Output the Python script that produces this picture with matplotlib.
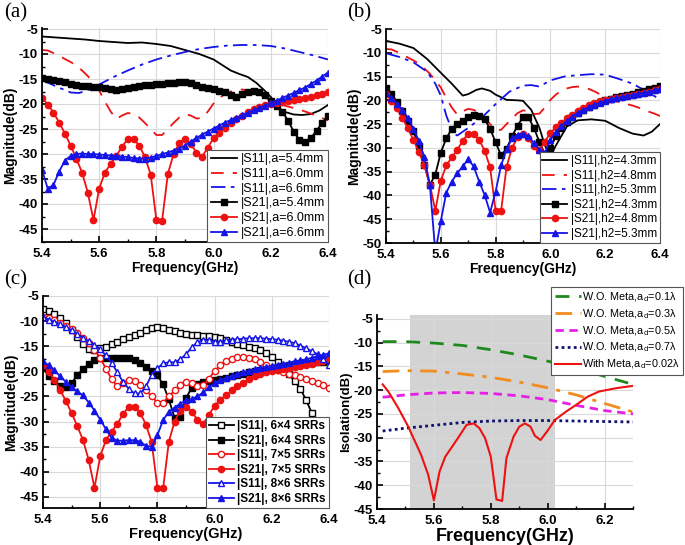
import numpy as np
import matplotlib
matplotlib.use("Agg")
import matplotlib.pyplot as plt
from matplotlib.ticker import MultipleLocator

plt.rcParams['font.family'] = ['Liberation Sans', 'DejaVu Sans']
plt.rcParams['mathtext.fontset'] = 'custom'
plt.rcParams['mathtext.rm'] = 'Liberation Sans'

# ---- data ----
freq = np.linspace(5.4, 6.4, 51)   # marker grid, 0.02 GHz

# shared: |S21| a=6.0 / h2=4.8 / 7x5 SRRs
s21_red = [-18.7, -20.1, -21.7, -23.7, -25.9, -28.3, -30.9, -33.7, -37.7, -43.2,
           -36.9, -33.7, -32.0, -30.4, -28.5, -27.0, -27.0, -28.3, -30.6, -34.1,
           -43.2, -43.3, -34.0, -30.0, -27.8, -27.0, -28.0, -29.7, -30.5, -28.7,
           -26.8, -25.7, -24.8, -23.8, -23.0, -22.3, -21.6, -21.0, -20.6, -20.2,
           -19.9, -19.7, -19.5, -19.3, -19.1, -18.9, -18.7, -18.5, -18.2, -17.9, -17.6]
# shared: |S11| a=6.0 / h2=4.8 / 7x5 SRRs
s11_red = [-9.2, -9.3, -9.8, -10.4, -11.0, -11.6, -12.3, -13.3, -14.4, -15.8,
           -17.3, -19.5, -21.5, -23.0, -22.3, -21.8, -22.0, -22.7, -23.8, -25.0,
           -26.2, -26.2, -25.0, -23.8, -22.7, -22.1, -22.3, -22.9, -22.8, -21.5,
           -19.9, -18.8, -18.0, -17.5, -17.2, -17.1, -17.3, -17.6, -18.1, -18.7,
           -19.3, -19.8, -20.2, -20.5, -20.8, -21.1, -21.5, -21.9, -22.4, -22.8, -23.3]

# (a)
a_s11_k_f = [5.40, 5.45, 5.50, 5.55, 5.60, 5.65, 5.70, 5.75, 5.80, 5.85, 5.90, 5.95, 6.00, 6.03,
             6.06, 6.09, 6.12, 6.15, 6.18, 6.20, 6.23, 6.25, 6.28, 6.31, 6.34, 6.37, 6.40]
a_s11_k = [-6.5, -6.7, -6.9, -7.1, -7.4, -7.6, -7.8, -7.7, -8.0, -8.4, -9.2, -10.0, -11.1, -12.2,
           -13.3, -14.0, -14.6, -15.8, -17.4, -18.6, -20.9, -21.6, -22.1, -22.2, -22.0, -21.3, -20.2]
a_s11_b_f = [5.40, 5.45, 5.50, 5.53, 5.57, 5.60, 5.65, 5.70, 5.75, 5.80, 5.85, 5.90, 5.95, 6.00,
             6.05, 6.10, 6.15, 6.20, 6.25, 6.30, 6.35, 6.40]
a_s11_b = [-15.2, -16.5, -17.7, -17.8, -17.0, -16.1, -14.6, -13.3, -12.1, -11.1, -10.3, -9.6, -9.0,
           -8.6, -8.3, -8.2, -8.2, -8.4, -8.9, -9.6, -10.3, -11.1]
a_s21_k = [-14.7, -14.9, -15.1, -15.4, -15.6, -15.9, -16.1, -16.3, -16.4, -16.5,
           -16.6, -16.8, -17.0, -17.1, -17.0, -16.8, -16.6, -16.4, -16.2, -16.1,
           -16.0, -15.9, -15.8, -15.7, -15.6, -15.6, -15.7, -16.1, -16.5, -16.8,
           -17.0, -17.3, -17.6, -18.2, -18.5, -18.0, -17.6, -17.3, -17.5, -18.2,
           -19.3, -20.3, -21.5, -23.3, -25.5, -27.2, -27.6, -26.8, -25.3, -23.8, -22.3]
a_s21_b = [-33.2, -36.9, -36.2, -33.5, -31.3, -30.4, -30.0, -29.9, -30.0, -30.0,
           -30.1, -30.2, -30.3, -30.4, -30.5, -30.6, -30.8, -30.9, -30.9, -30.7,
           -30.4, -30.0, -29.7, -29.3, -28.9, -28.3, -27.5, -26.8, -26.1, -25.5,
           -24.9, -24.3, -23.7, -23.2, -22.7, -22.2, -21.7, -21.2, -20.8, -20.3,
           -19.8, -19.3, -18.8, -18.3, -17.8, -17.2, -16.7, -16.0, -15.3, -14.5, -13.7]

# (b)
b_s11_k_f = [5.40, 5.45, 5.50, 5.55, 5.60, 5.64, 5.68, 5.70, 5.73, 5.75, 5.78, 5.80, 5.84, 5.88,
             5.90, 5.93, 5.96, 5.98, 6.00, 6.02, 6.06, 6.10, 6.15, 6.20, 6.25, 6.30, 6.34, 6.37, 6.40]
b_s11_k = [-7.5, -8.1, -9.0, -11.3, -14.2, -16.5, -19.0, -18.7, -17.8, -17.5, -18.0, -18.8, -19.9,
           -20.0, -20.1, -22.0, -25.8, -29.5, -31.8, -29.5, -25.5, -24.2, -24.0, -24.3, -25.8,
           -27.0, -27.4, -26.6, -25.0]
b_s11_b_f = [5.40, 5.45, 5.50, 5.55, 5.58, 5.60, 5.62, 5.645, 5.66, 5.68, 5.70, 5.75, 5.80, 5.85,
             5.90, 5.93, 5.96, 6.00, 6.05, 6.10, 6.15, 6.20, 6.25, 6.30, 6.35, 6.40]
b_s11_b = [-10.1, -10.9, -12.0, -14.0, -16.5, -19.0, -23.2, -26.9, -27.4, -26.6, -25.8, -23.6,
           -20.8, -18.2, -16.9, -16.8, -17.1, -15.8, -15.0, -14.7, -14.5, -14.6, -15.5, -16.5,
           -18.1, -19.8]
b_s21_k = [-17.5, -18.7, -20.3, -22.2, -24.3, -26.5, -29.5, -33.5, -37.8, -35.6,
           -31.0, -28.0, -26.0, -25.0, -24.3, -23.6, -23.0, -23.2, -24.0, -26.0,
           -28.8, -31.6, -30.2, -27.6, -25.3, -23.6, -23.6, -25.8, -28.8, -31.3,
           -30.0, -27.6, -25.8, -24.5, -23.5, -22.7, -22.0, -21.4, -20.9, -20.4,
           -20.0, -19.7, -19.4, -19.1, -18.8, -18.6, -18.3, -18.0, -17.7, -17.4, -17.0]
b_s21_b = [-18.5, -19.5, -20.8, -22.0, -23.7, -26.0, -28.5, -32.0, -37.7, -52.0,
           -45.4, -39.4, -37.1, -35.3, -33.9, -32.4, -33.9, -37.1, -39.9, -43.6,
           -39.2, -33.7, -30.3, -28.0, -27.2, -27.0, -27.6, -29.0, -30.4, -31.0,
           -28.3, -26.6, -25.4, -24.3, -23.4, -22.6, -22.0, -21.4, -20.9, -20.5,
           -20.1, -19.8, -19.5, -19.3, -19.1, -18.9, -18.6, -18.4, -18.2, -17.9, -17.6]

# (c)
c_s11_64 = [-7.5, -7.9, -8.5, -9.4, -10.4, -11.7, -13.1, -14.6, -15.6, -15.7,
            -15.4, -15.1, -14.6, -14.1, -13.6, -13.2, -12.8, -12.3, -11.8, -11.4,
            -11.2, -11.4, -11.7, -12.0, -12.3, -12.5, -12.7, -12.8, -12.9, -13.0,
            -13.1, -13.4, -13.8, -14.1, -14.5, -14.8, -15.1, -15.4, -15.8, -16.4,
            -17.2, -18.2, -19.4, -20.6, -22.0, -23.5, -25.7, -28.3, -31.0, -34.0, -37.0]
c_s21_64 = [-19.3, -21.0, -21.9, -23.0, -23.2, -22.4, -20.7, -19.6, -18.5, -17.7,
            -17.3, -17.3, -17.3, -17.4, -17.4, -17.4, -17.8, -18.4, -19.1, -19.9,
            -20.8, -22.6, -25.6, -29.2, -29.0, -25.3, -23.3, -22.6, -22.2, -22.0,
            -21.8, -21.5, -21.3, -21.0, -20.7, -20.5, -20.2, -20.0, -19.7, -19.5,
            -19.3, -19.1, -18.9, -18.8, -18.6, -18.5, -18.4, -18.3, -18.2, -18.1, -18.0]
c_s11_86 = [-9.1, -9.7, -10.1, -10.6, -11.2, -11.8, -12.6, -13.3, -14.0, -14.7,
            -15.6, -16.8, -18.3, -20.2, -22.1, -23.5, -24.4, -24.4, -23.0, -20.7,
            -19.4, -18.4, -18.2, -18.2, -17.6, -16.6, -15.2, -14.2, -13.7, -13.8,
            -14.1, -14.1, -13.8, -13.7, -13.6, -13.5, -13.4, -13.4, -13.4, -13.5,
            -13.6, -13.7, -13.9, -14.1, -14.4, -14.9, -15.4, -16.0, -16.6, -17.6, -18.8]
c_s21_86 = [-18.0, -18.8, -19.8, -21.0, -22.1, -23.2, -24.0, -24.8, -26.2, -27.8,
            -29.6, -31.5, -33.3, -33.8, -33.8, -33.7, -33.7, -34.0, -34.8, -35.0,
            -32.7, -29.7, -28.0, -27.2, -26.4, -25.8, -25.5, -25.0, -24.2, -23.2,
            -22.3, -21.8, -21.3, -20.9, -20.5, -20.2, -19.9, -19.6, -19.3, -19.1,
            -18.9, -18.7, -18.5, -18.3, -18.0, -17.8, -17.6, -17.3, -17.0, -16.7, -16.4]

# (d)
d_wo_f = [5.42, 5.50, 5.60, 5.70, 5.80, 5.90, 6.00, 6.10, 6.20, 6.30]
d_wo_01 = [-9.8, -9.8, -10.1, -10.6, -11.5, -12.6, -13.9, -15.4, -17.1, -18.8]
d_wo_03 = [-16.1, -15.9, -16.0, -16.6, -17.3, -18.3, -19.5, -21.0, -22.8, -24.6]
d_wo_05 = [-21.5, -21.0, -20.6, -20.5, -20.7, -21.2, -22.0, -23.2, -24.3, -25.0]
d_wo_07 = [-28.6, -28.0, -27.4, -26.8, -26.5, -26.4, -26.4, -26.5, -26.6, -26.7]
d_meta_f = [5.42, 5.44, 5.475, 5.51, 5.555, 5.58, 5.60, 5.62, 5.64, 5.68, 5.715, 5.74, 5.76,
            5.78, 5.80, 5.82, 5.84, 5.855, 5.88, 5.90, 5.92, 5.94, 5.955, 5.975, 6.00, 6.025,
            6.065, 6.10, 6.14, 6.18, 6.24, 6.30]
d_meta = [-18.8, -20.3, -23.8, -27.7, -33.6, -37.8, -43.2, -37.1, -34.0, -30.5, -27.3, -27.0,
          -28.0, -30.1, -34.0, -43.0, -43.3, -34.3, -29.8, -27.7, -27.0, -27.7, -29.6, -30.5,
          -28.5, -26.3, -24.5, -23.1, -21.4, -20.3, -19.6, -19.1]
band = (5.515, 6.026)

RED = '#ee1111'
BLUE = '#1414e6'

fig = plt.figure(figsize=(6.85, 5.45), dpi=100)
W, H = 685, 545


def add_ax(l, r, t, b):
    return fig.add_axes([l / W, 1 - b / H, (r - l) / W, (b - t) / H])


def style(ax, ylim, xlim=(5.4, 6.4), yticks=None, xticks=None):
    ax.set_xlim(*xlim)
    ax.set_ylim(*ylim)
    for s in ['top', 'right']:
        ax.spines[s].set_visible(False)
    for s in ['left', 'bottom']:
        ax.spines[s].set_linewidth(1.3)
    ax.xaxis.set_major_locator(MultipleLocator(0.2))
    ax.xaxis.set_minor_locator(MultipleLocator(0.1))
    ax.yaxis.set_major_locator(MultipleLocator(5))
    ax.yaxis.set_minor_locator(MultipleLocator(2.5))
    if yticks is not None:
        ax.set_yticks(yticks)
    if xticks is not None:
        ax.set_xticks(xticks)
    ax.set_xticklabels(['%.1f' % t for t in ax.get_xticks()])
    ax.set_yticklabels(['%d' % t for t in ax.get_yticks()])
    ax.tick_params(which='major', direction='in', length=4, width=1.2, labelsize=9.5)
    ax.tick_params(axis='x', which='major', pad=4)
    ax.tick_params(axis='y', which='major', pad=3)
    ax.tick_params(which='minor', direction='in', length=2.5, width=1.0)
    for lab in ax.get_xticklabels() + ax.get_yticklabels():
        lab.set_fontweight('bold')
    ax.grid(True, which='major', color='#d9d9d9', lw=0.8)
    ax.set_axisbelow(True)


def legend(ax, **kw):
    lg = ax.legend(loc='lower right', bbox_to_anchor=(1.0, 0.0), borderaxespad=0,
                   fancybox=False, edgecolor='#555555', framealpha=1,
                   handlelength=2.1, handletextpad=0.3, labelspacing=0.22,
                   borderpad=0.25, **kw)
    lg.get_frame().set_linewidth(0.8)
    return lg


mk = dict(markersize=4.5, lw=1.3)

# ---- (a) ----
ax = add_ax(42, 328, 28, 242)
ax.plot(a_s11_k_f, a_s11_k, color='black', lw=1.3, label='|S11|,a=5.4mm')
ax.plot(freq, s11_red, color=RED, lw=1.3, dashes=(7, 5), label='|S11|,a=6.0mm')
ax.plot(a_s11_b_f, a_s11_b, color=BLUE, lw=1.3, dashes=(8, 3, 2, 3), label='|S11|,a=6.6mm')
ax.plot(freq, a_s21_k, color='black', marker='s', **mk, label='|S21|,a=5.4mm')
ax.plot(freq, s21_red, color=RED, marker='o', **mk, label='|S21|,a=6.0mm')
ax.plot(freq, a_s21_b, color=BLUE, marker='^', **mk, label='|S21|,a=6.6mm')
style(ax, (-47.6, -4.8), yticks=np.arange(-45, -4, 5))
ax.set_ylabel('Magnitude(dB)', fontsize=10, fontweight='bold', labelpad=1)
ax.set_xlabel('Frequency(GHz)', fontsize=10, fontweight='bold', labelpad=1)
legend(ax, fontsize=9)

# ---- (b) ----
ax = add_ax(386, 660, 29, 243)
ax.plot(b_s11_k_f, b_s11_k, color='black', lw=1.3, label='|S11|,h2=4.3mm')
ax.plot(freq, s11_red, color=RED, lw=1.3, dashes=(7, 5), label='|S11|,h2=4.8mm')
ax.plot(b_s11_b_f, b_s11_b, color=BLUE, lw=1.3, dashes=(8, 3, 2, 3), label='|S11|,h2=5.3mm')
ax.plot(freq, b_s21_k, color='black', marker='s', **mk, label='|S21|,h2=4.3mm')
ax.plot(freq, s21_red, color=RED, marker='o', **mk, label='|S21|,h2=4.8mm')
ax.plot(freq, b_s21_b, color=BLUE, marker='^', **mk, label='|S21|,h2=5.3mm')
style(ax, (-50, -5), yticks=np.arange(-50, -4, 5))
ax.set_ylabel('Magnitude(dB)', fontsize=10, fontweight='bold', labelpad=1)
ax.set_xlabel('Frequency(GHz)', fontsize=10, fontweight='bold', labelpad=1)
legend(ax, fontsize=8.5)

# ---- (c) ----
ax = add_ax(43, 329, 296, 508)
ax.plot(freq, c_s11_64, color='black', marker='s', mfc='white', **mk, label='|S11|, 6×4 SRRs')
ax.plot(freq, c_s21_64, color='black', marker='s', **mk, label='|S21|, 6×4 SRRs')
ax.plot(freq, s11_red, color=RED, marker='o', mfc='white', **mk, label='|S11|, 7×5 SRRs')
ax.plot(freq, s21_red, color=RED, marker='o', **mk, label='|S21|, 7×5 SRRs')
ax.plot(freq, c_s11_86, color=BLUE, marker='^', mfc='white', **mk, label='|S11|, 8×6 SRRs')
ax.plot(freq, c_s21_86, color=BLUE, marker='^', **mk, label='|S21|, 8×6 SRRs')
style(ax, (-47.2, -5), yticks=np.arange(-45, -4, 5))
ax.set_ylabel('Magnitude(dB)', fontsize=10, fontweight='bold', labelpad=1)
ax.set_xlabel('Frequency(GHz)', fontsize=10.5, fontweight='bold', labelpad=1)
legend(ax, prop={'size': 8.5, 'weight': 'bold'})

# ---- (d) ----
ax = add_ax(377, 633, 315, 509)
ax.axvspan(*band, color='#d3d3d3', lw=0, zorder=0.5)
ax.plot(d_wo_f, d_wo_01, color='#1e8a1e', lw=2, dashes=(5, 3.5), label=r'W.O. Meta,a$_\mathrm{d}$=0.1λ')
ax.plot(d_wo_f, d_wo_03, color='#f28c1e', lw=2, dashes=(6, 3, 1.5, 3), label=r'W.O. Meta,a$_\mathrm{d}$=0.3λ')
ax.plot(d_wo_f, d_wo_05, color='#e61ee6', lw=2, dashes=(3, 2), label=r'W.O. Meta,a$_\mathrm{d}$=0.5λ')
ax.plot(d_wo_f, d_wo_07, color='#10106e', lw=2, dashes=(1, 1.2), label=r'W.O. Meta,a$_\mathrm{d}$=0.7λ')
ax.plot(d_meta_f, d_meta, color=RED, lw=1.5, label=r'With Meta,a$_\mathrm{d}$=0.02λ')
style(ax, (-45, -4.2), xlim=(5.4, 6.3), yticks=np.arange(-45, -4, 5),
      xticks=[5.4, 5.6, 5.8, 6.0, 6.2])
ax.set_ylabel('Isolation(dB)', fontsize=9.5, fontweight='bold', labelpad=1)
ax.set_xlabel('Frequency(GHz)', fontsize=13, fontweight='bold', labelpad=1)
lg = ax.legend(loc='upper right', bbox_to_anchor=(683 / W, 1 - 287 / H),
               bbox_transform=fig.transFigure, borderaxespad=0,
               fancybox=False, edgecolor='#555555', framealpha=1, fontsize=7.8,
               handlelength=2.4, handletextpad=0.15, labelspacing=0.3, borderpad=0.3)
lg.get_frame().set_linewidth(0.8)

# panel letters
for x, y, s in [(4, 3, '(a)'), (347, 3, '(b)'), (4, 270, '(c)'), (347, 270, '(d)')]:
    fig.text(x / W, 1 - y / H, s, fontsize=15, family='Liberation Serif', va='top', ha='left')

fig.savefig('out.png', dpi=100)
